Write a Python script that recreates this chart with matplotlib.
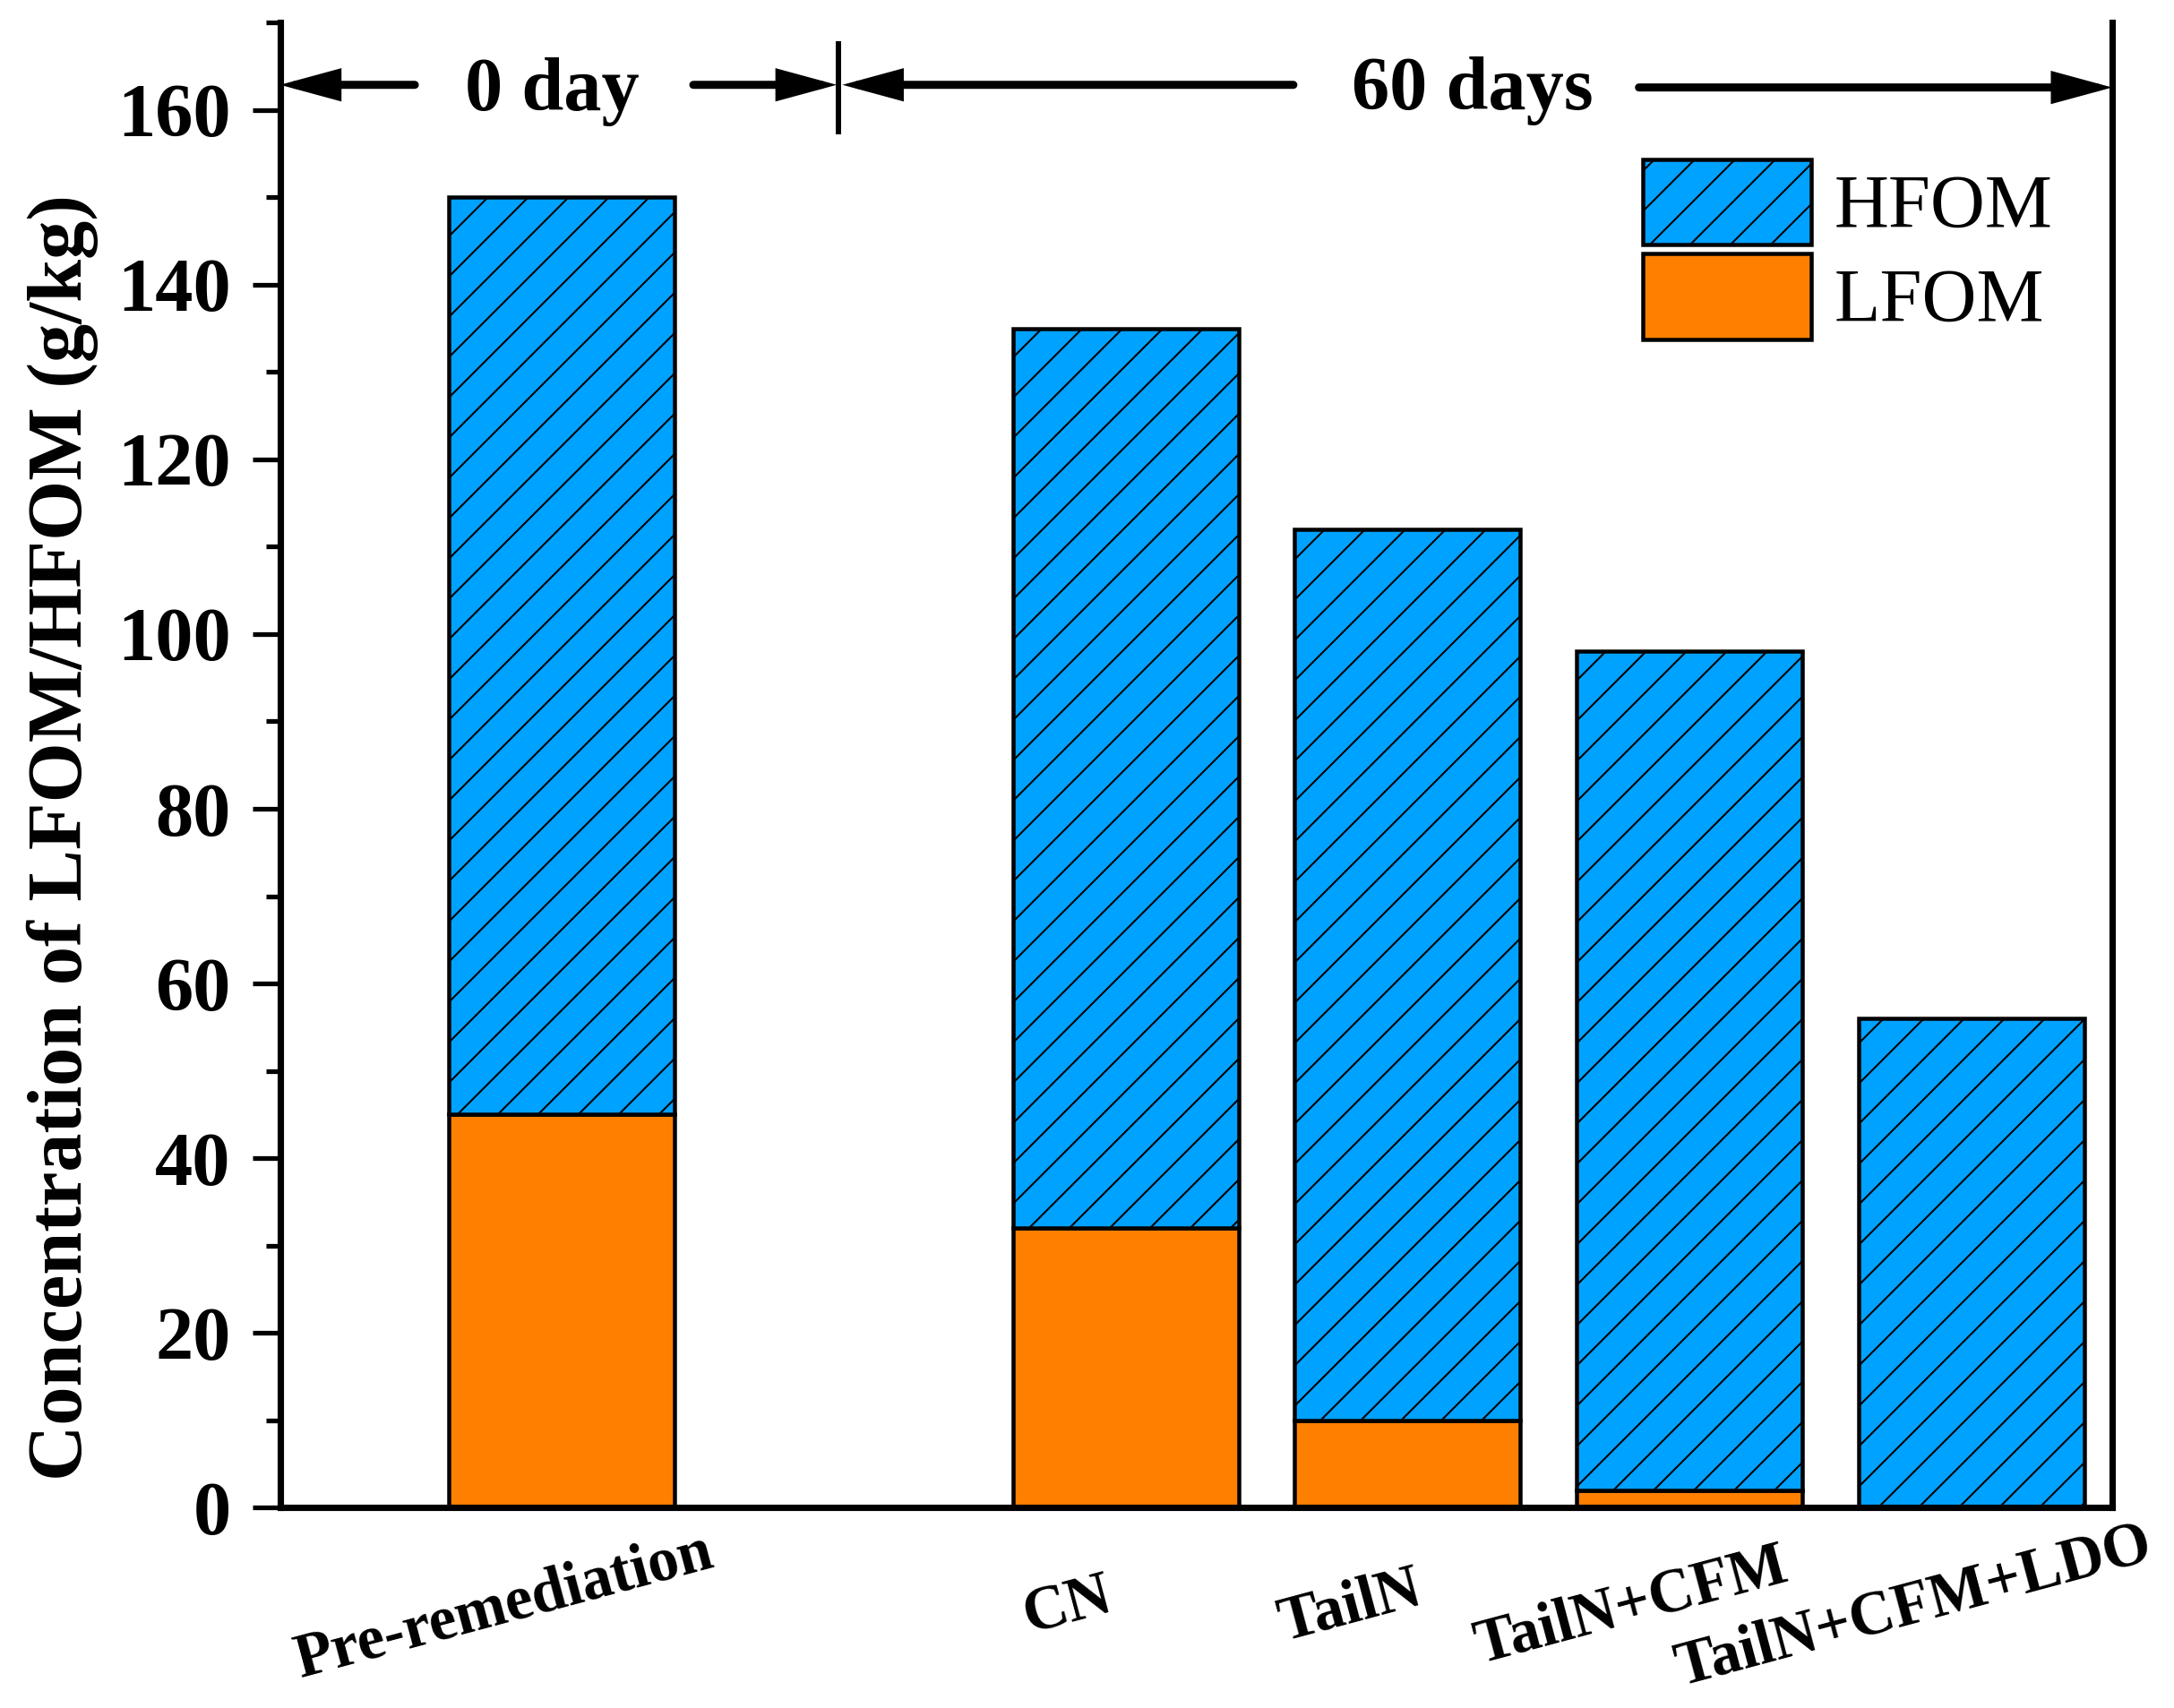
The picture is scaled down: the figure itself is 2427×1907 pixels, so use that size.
import matplotlib
matplotlib.use("Agg")
import matplotlib.pyplot as plt
from matplotlib.ticker import MultipleLocator
from matplotlib.transforms import ScaledTranslation

# data (g/kg)
categories = ["Pre-remediation", "CN", "TailN", "TailN+CFM", "TailN+CFM+LDO"]
lfom = [45, 32, 10, 2, 0]
hfom = [105, 103, 102, 96, 56]
period_labels = ["0 day", "60 days"]

# layout
x_pos = [0, 2, 3, 4, 5]
bar_width = 0.8
blue = "#00A2FF"
orange = "#FF8000"

plt.rcParams["font.family"] = "Liberation Serif"
plt.rcParams["hatch.linewidth"] = 0.55
plt.rcParams["hatch.color"] = "black"

DPI = 270
fig = plt.figure(figsize=(2427 / DPI, 1907 / DPI), dpi=DPI)
ax = fig.add_axes([0.12884, 0.11746, 0.84273, 0.86917])

l_bars = ax.bar(x_pos, lfom, width=bar_width, color=orange,
                edgecolor="black", linewidth=1.2, label="LFOM")
h_bars = ax.bar(x_pos, hfom, width=bar_width, bottom=lfom, color=blue,
                edgecolor="black", linewidth=1.2, hatch="//", label="HFOM")

ax.set_xlim(-1, 5.5)
ax.set_ylim(0, 170)

# spines
ax.spines["top"].set_visible(False)
for side in ("left", "right", "bottom"):
    ax.spines[side].set_linewidth(1.9)

# y axis
ax.yaxis.set_major_locator(MultipleLocator(20))
ax.yaxis.set_minor_locator(MultipleLocator(10))
ax.tick_params(axis="y", which="major", direction="out", length=8.2,
               width=1.4, pad=6.5, labelsize=22.5)
ax.tick_params(axis="y", which="minor", direction="out", length=4.2,
               width=1.4)
for lab in ax.get_yticklabels():
    lab.set_fontweight("bold")
ax.set_ylabel("Concentration of LFOM/HFOM (g/kg)", fontsize=23,
              fontweight="bold")
ax.yaxis.set_label_coords(-0.0991, 0.451)

# x axis
ax.set_xticks(x_pos)
ax.set_xticklabels(categories, fontsize=18.4, fontweight="bold",
                   rotation=15, ha="center", va="center",
                   rotation_mode="anchor")
ax.tick_params(axis="x", length=0, pad=29.6)
shift = ScaledTranslation(-64 / DPI, 0, fig.dpi_scale_trans)
for lab in ax.get_xticklabels():
    lab.set_transform(lab.get_transform() + shift)

# period annotations with arrows
arrow_kw = dict(arrowstyle="-|>,head_length=12.5,head_width=3.4",
                mutation_scale=1, color="black", lw=2.4,
                shrinkA=0, shrinkB=0, joinstyle="miter")
divider_x = 0.98
arrows = [((-0.522, 162.9), (-1.0, 162.9)),
          ((0.466, 162.9), (divider_x - 0.005, 162.9)),
          ((2.595, 162.9), (divider_x + 0.015, 162.9)),
          ((3.821, 162.6), (5.5, 162.6))]
for tail, tip in arrows:
    ax.annotate("", xy=tip, xytext=tail, arrowprops=arrow_kw)
ax.plot([divider_x, divider_x], [157.2, 167.9], color="black", lw=1.6,
        solid_capstyle="butt")

ax.text(-0.036, 160, period_labels[0], fontsize=22.5, fontweight="bold",
        ha="center", va="baseline")
ax.text(3.23, 160.1, period_labels[1], fontsize=22.5, fontweight="bold",
        ha="center", va="baseline")

ax.legend([h_bars, l_bars], ["HFOM", "LFOM"], loc="upper left",
          bbox_to_anchor=(0.7438, 0.908), frameon=False, borderpad=0,
          borderaxespad=0, fontsize=22.5, handlelength=2.23,
          handleheight=1.36, handletextpad=0.3, labelspacing=0.12)

fig.savefig("out.png", dpi=DPI, facecolor="white")
